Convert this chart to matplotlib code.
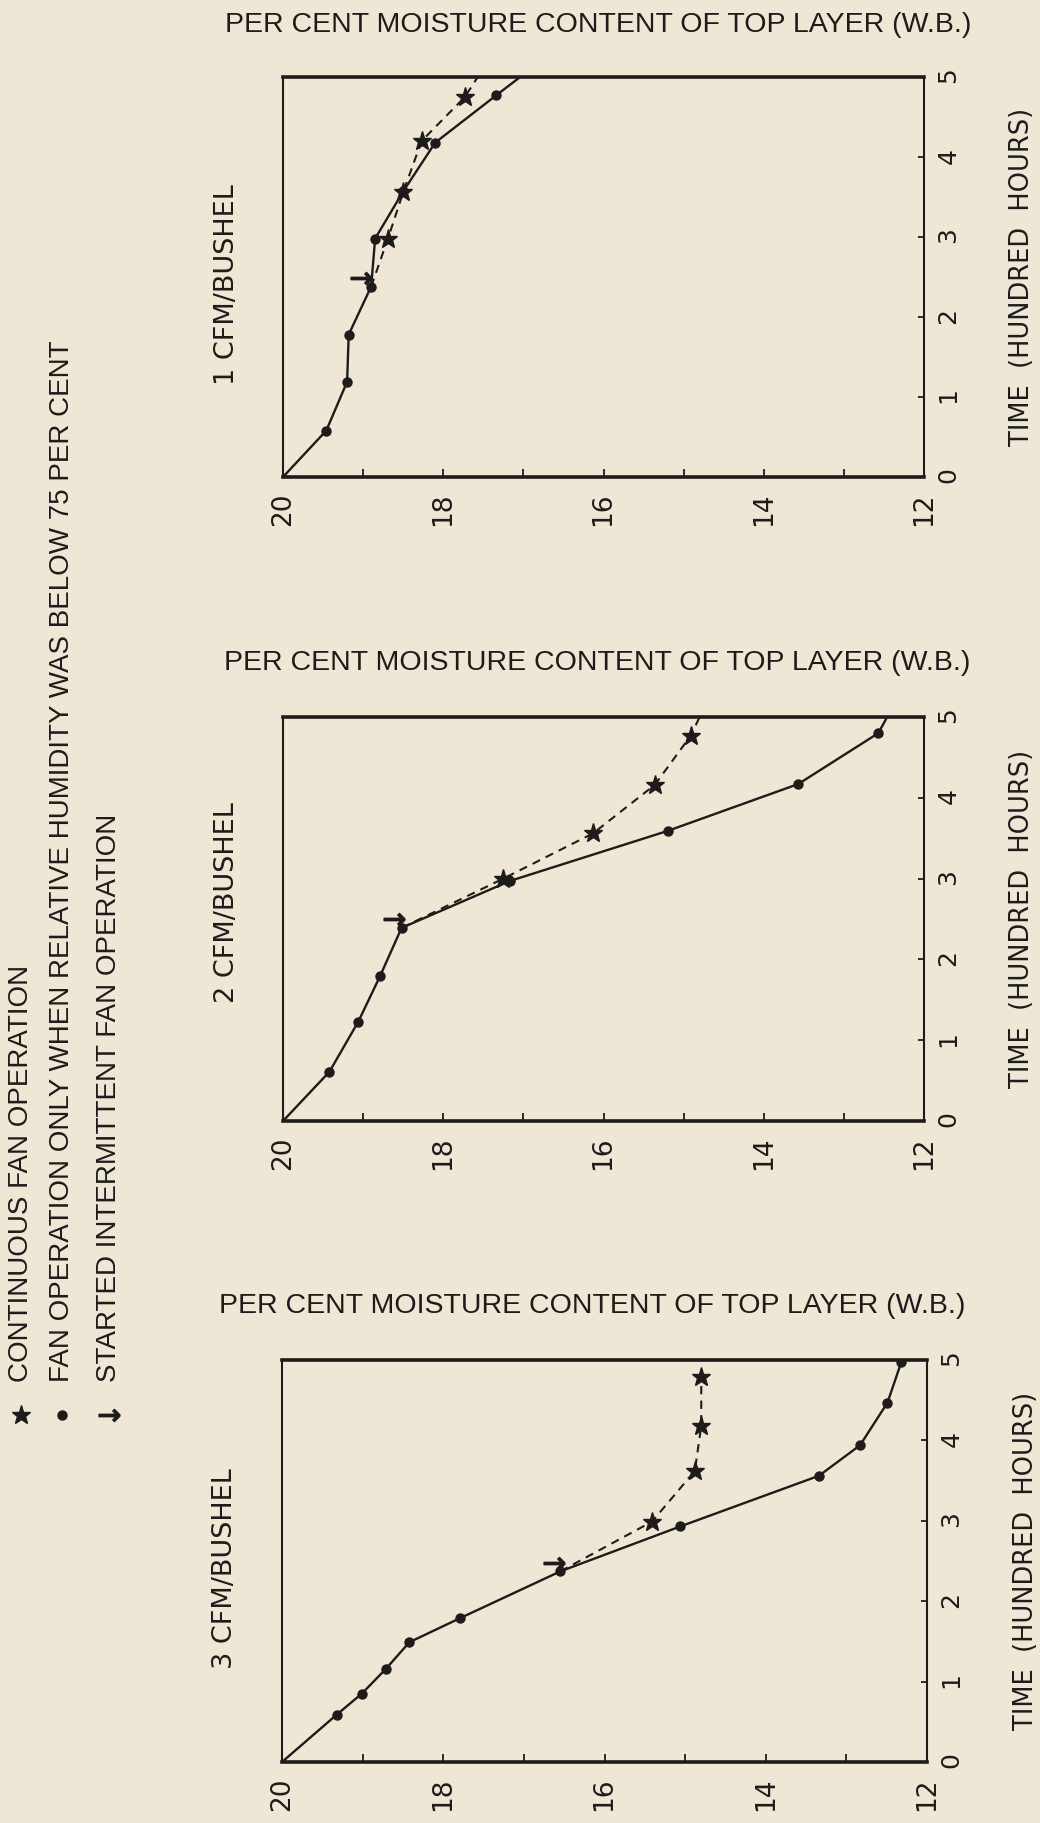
import matplotlib
matplotlib.use("Agg")
import matplotlib.pyplot as plt
from matplotlib.lines import Line2D
import numpy as np

# moisture (per cent, wet basis) against time (hundred hours), one panel per airflow rate
airflow_labels = ["1 CFM/BUSHEL", "2 CFM/BUSHEL", "3 CFM/BUSHEL"]

# fan on only when relative humidity below 75 per cent
rh_time_1 = [0.0, 0.58, 1.19, 1.78, 2.38, 2.98, 3.57, 4.18, 4.77, 5.0]
rh_moist_1 = [20.0, 19.46, 19.20, 19.18, 18.90, 18.85, 18.50, 18.10, 17.34, 17.04]
rh_time_2 = [0.0, 0.61, 1.23, 1.79, 2.39, 2.97, 3.59, 4.17, 4.80, 5.0]
rh_moist_2 = [20.0, 19.42, 19.06, 18.79, 18.52, 17.17, 15.20, 13.57, 12.57, 12.46]
rh_time_3 = [0.0, 0.59, 0.85, 1.16, 1.49, 1.79, 2.37, 2.93, 3.56, 3.94, 4.47, 4.97]
rh_moist_3 = [20.0, 19.32, 19.01, 18.71, 18.42, 17.79, 16.55, 15.06, 13.34, 12.83, 12.49, 12.32]

# continuous fan operation, branching off at the start of intermittent running
cont_time_1 = [2.38, 2.98, 3.56, 4.20, 4.75, 5.0]
cont_moist_1 = [18.90, 18.69, 18.50, 18.27, 17.73, 17.57]
cont_time_2 = [2.39, 3.00, 3.56, 4.16, 4.77, 5.0]
cont_moist_2 = [18.52, 17.25, 16.13, 15.36, 14.91, 14.80]
cont_time_3 = [2.37, 2.99, 3.62, 4.18, 4.79]
cont_moist_3 = [16.55, 15.41, 14.88, 14.80, 14.80]

# where intermittent fan operation was started
start_time = [2.49, 2.50, 2.47]
start_moist = [19.03, 18.62, 16.63]

moisture_ticks = [20, 18, 16, 14, 12]
time_ticks = [0, 1, 2, 3, 4, 5]

title = "PER CENT MOISTURE CONTENT OF TOP LAYER (W.B.)"
time_label = "TIME  (HUNDRED  HOURS)"
legend_text = [
    "CONTINUOUS FAN OPERATION",
    "FAN OPERATION ONLY WHEN RELATIVE HUMIDITY WAS BELOW 75 PER CENT",
    "STARTED INTERMITTENT FAN OPERATION",
]

W, H = 1040, 1823
BG = "#efe7d6"
INK = "#1e1c1a"

NARROW = ["Liberation Sans", "DejaVu Sans"]
PLAIN = "DejaVu Sans"

ARROW = r"$\rightarrow$"


def box(left, top, right, bottom):
    return [left / W, 1 - bottom / H, (right - left) / W, (bottom - top) / H]


fig = plt.figure(figsize=(W / 100, H / 100), dpi=100)
fig.set_facecolor(BG)

panels = [
    dict(rect=box(283, 77, 924, 477), title_y=25, title_x=598, label_y=0.48,
         rh=(rh_time_1, rh_moist_1), cont=(cont_time_1, cont_moist_1)),
    dict(rect=box(283, 717, 924, 1121), title_y=663, title_x=597, label_y=0.54,
         rh=(rh_time_2, rh_moist_2), cont=(cont_time_2, cont_moist_2)),
    dict(rect=box(282, 1360, 927, 1762), title_y=1306, title_x=592, label_y=0.48,
         rh=(rh_time_3, rh_moist_3), cont=(cont_time_3, cont_moist_3)),
]

for i, p in enumerate(panels):
    ax = fig.add_axes(p["rect"])
    ax.set_facecolor(BG)
    ax.set_xlim(20, 12)
    ax.set_ylim(0, 5)

    t, m = np.array(p["rh"][0]), np.array(p["rh"][1])
    ax.plot(m, t, color=INK, lw=1.7)
    keep = (t > 0) & (t < 5)
    ax.plot(m[keep], t[keep], "o", ms=6.5, color=INK)

    t, m = np.array(p["cont"][0]), np.array(p["cont"][1])
    ax.plot(m, t, color=INK, lw=1.5, ls=(0, (4, 3)))
    keep = (t > t[0]) & (t < 5)
    ax.plot(m[keep], t[keep], ls="none", marker="*", ms=14, color=INK)

    ax.plot(start_moist[i], start_time[i], ls="none", marker=ARROW, ms=15, color=INK)

    for side, s in ax.spines.items():
        s.set_linewidth(2.6 if side in ("top", "bottom") else 1.5)
        s.set_color(INK)

    ax.set_xticks(moisture_ticks)
    ax.set_xticklabels([str(v) for v in moisture_ticks])
    ax.set_xticks(np.arange(12, 21), minor=True)
    ax.tick_params(axis="x", which="both", direction="in", length=6, width=1.3,
                   color=INK, top=False, labelsize=19, labelrotation=90, pad=11,
                   labelcolor=INK)

    ax.yaxis.tick_right()
    ax.set_yticks(time_ticks)
    ax.tick_params(axis="y", direction="in", length=4, width=1.3, color=INK,
                   left=False, labelsize=18, labelrotation=90, pad=9, labelcolor=INK)
    for lab in ax.get_xticklabels() + ax.get_yticklabels():
        lab.set_family(PLAIN)

    ax.text(1.153, 0.5, time_label, transform=ax.transAxes, rotation=90,
            ha="center", va="center", fontsize=18.5, color=INK, family=PLAIN)
    ax.text(-0.088, p["label_y"], airflow_labels[i], transform=ax.transAxes,
            rotation=90, ha="center", va="center", fontsize=19.5, color=INK,
            family=PLAIN)

    fig.text(p["title_x"] / W, 1 - p["title_y"] / H, title, ha="center",
             va="center", fontsize=20.5, color=INK, family=NARROW)

# legend, written sideways up the left margin
legend_x = [21, 62, 109]
legend_marks = ["*", "o", ARROW]
legend_sizes = [14, 6.5, 15]
for x, txt, mk, ms in zip(legend_x, legend_text, legend_marks, legend_sizes):
    fig.text(x / W, 1 - 1382 / H, txt, rotation=90, ha="center", va="bottom",
             fontsize=20, color=INK, family=NARROW)
    fig.add_artist(Line2D([x / W], [1 - 1415 / H], transform=fig.transFigure,
                          ls="none", marker=mk, ms=ms, color=INK))

fig.savefig("out.png", dpi=100, facecolor=BG)
